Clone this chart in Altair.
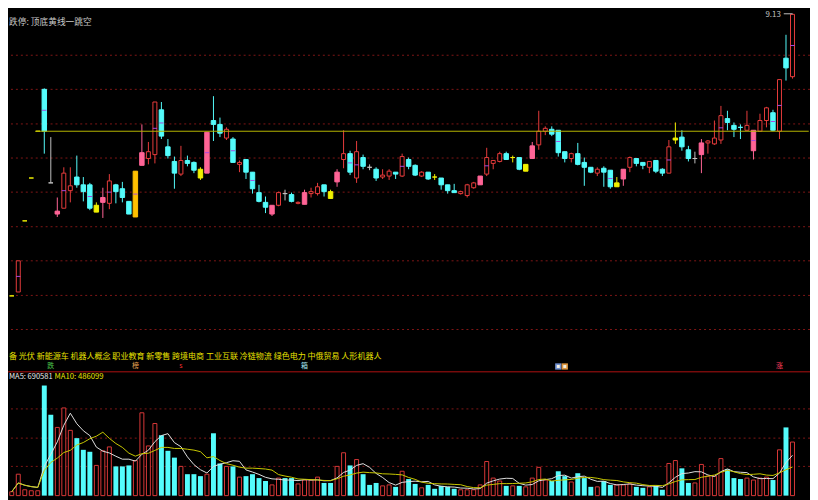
import altair as alt
import pandas as pd

# ---------------- data ----------------
idx = list(range(-1, 120))

opens = [3.35, 3.43, 4.89, 5.77, 6.73, 7.59, 5.67, 5.03, 5.15, 5.51,
         5.79, 5.63, 5.63, 5.21, 5.27, 5.25, 5.63, 5.55, 5.29, 5.91,
         6.03, 6.17, 6.25, 7.17, 6.41, 6.11, 5.85, 6.13, 6.09, 5.95,
         5.87, 6.95, 6.87, 6.59, 6.57, 6.05, 6.15, 5.89, 5.47, 5.27,
         5.03, 5.21, 5.45, 5.43, 5.25, 5.23, 5.45, 5.45, 5.63, 5.49,
         5.69, 6.15, 6.27, 5.77, 6.19, 5.99, 5.95, 5.79, 5.81, 5.89,
         5.81, 6.15, 6.03, 5.81, 5.89, 5.79, 5.77, 5.63, 5.51, 5.45,
         5.41, 5.57, 5.63, 5.85, 6.07, 6.11, 6.27, 6.19, 6.19, 6.05,
         6.17, 6.45, 6.73, 6.77, 6.75, 6.31, 6.17, 6.27, 6.09, 5.99,
         5.87, 5.97, 5.93, 5.67, 5.75, 5.99, 6.17, 6.09, 5.99, 6.13,
         5.95, 5.87, 6.55, 6.61, 6.35, 6.17, 6.25, 6.49, 6.47, 6.55,
         6.99, 6.85, 6.81, 6.75, 6.33, 6.73, 6.95, 7.11, 6.73, 8.23,
         7.85]
highs = [3.35, 4.07, 4.89, 5.77, 6.73, 7.61, 6.61, 5.37, 5.99, 5.99,
         6.23, 5.79, 5.67, 5.27, 5.57, 5.85, 5.65, 5.69, 5.29, 5.91,
         6.87, 6.51, 7.33, 7.33, 6.57, 6.21, 6.43, 6.23, 6.11, 5.99,
         6.71, 7.45, 7.01, 6.81, 6.61, 6.13, 6.15, 5.89, 5.63, 5.39,
         5.21, 5.49, 5.53, 5.47, 5.29, 5.53, 5.57, 5.67, 5.63, 5.53,
         5.95, 6.75, 6.33, 6.53, 6.25, 6.05, 5.99, 5.95, 5.95, 5.89,
         6.27, 6.19, 6.05, 5.91, 5.89, 5.85, 5.77, 5.63, 5.65, 5.51,
         5.65, 5.69, 5.81, 6.39, 6.13, 6.31, 6.31, 6.23, 6.19, 6.05,
         6.51, 7.15, 6.83, 6.83, 6.75, 6.31, 6.29, 6.49, 6.19, 5.99,
         5.99, 6.01, 5.93, 5.79, 5.95, 6.21, 6.17, 6.09, 6.11, 6.13,
         5.97, 6.55, 6.91, 6.75, 6.43, 6.31, 6.57, 6.55, 6.95, 7.25,
         7.15, 6.91, 6.87, 7.15, 6.75, 7.09, 7.23, 7.17, 7.79, 8.71,
         9.13]
lows = [3.35, 3.43, 4.89, 5.77, 6.73, 6.27, 5.67, 4.97, 5.15, 5.27,
        5.57, 5.29, 5.11, 5.07, 4.95, 5.13, 5.25, 5.27, 5.03, 4.97,
        6.03, 6.05, 6.07, 6.57, 6.17, 5.55, 5.81, 6.01, 5.87, 5.73,
        5.87, 6.53, 6.61, 6.55, 6.09, 5.89, 5.75, 5.45, 5.27, 5.05,
        4.99, 5.19, 5.31, 5.27, 5.23, 5.23, 5.37, 5.41, 5.39, 5.35,
        5.59, 5.97, 5.83, 5.67, 5.95, 5.93, 5.71, 5.75, 5.73, 5.75,
        5.79, 5.95, 5.81, 5.79, 5.73, 5.73, 5.53, 5.45, 5.47, 5.43,
        5.37, 5.55, 5.63, 5.81, 5.95, 6.09, 6.15, 6.09, 5.93, 5.91,
        6.17, 6.35, 6.65, 6.63, 6.21, 6.09, 6.09, 6.03, 5.61, 5.87,
        5.81, 5.59, 5.55, 5.59, 5.61, 5.89, 6.01, 5.95, 5.87, 5.87,
        5.81, 5.87, 6.47, 6.33, 6.11, 6.07, 5.87, 6.27, 6.45, 6.47,
        6.75, 6.61, 6.57, 6.75, 6.15, 6.73, 6.81, 6.73, 6.57, 7.77,
        7.81]
closes = [3.35, 4.07, 4.89, 5.77, 6.73, 6.73, 5.67, 5.09, 5.87, 5.61,
          5.63, 5.49, 5.15, 5.07, 5.37, 5.71, 5.49, 5.37, 5.03, 4.97,
          6.29, 6.31, 7.33, 6.63, 6.23, 5.87, 6.13, 6.07, 5.93, 5.77,
          6.71, 6.87, 6.69, 6.77, 6.09, 6.09, 5.89, 5.55, 5.29, 5.17,
          5.21, 5.47, 5.45, 5.29, 5.27, 5.47, 5.49, 5.59, 5.49, 5.35,
          5.89, 6.27, 5.89, 6.31, 6.01, 5.99, 5.77, 5.83, 5.91, 5.85,
          6.21, 6.01, 5.83, 5.89, 5.75, 5.79, 5.63, 5.51, 5.47, 5.49,
          5.63, 5.67, 5.81, 6.19, 6.13, 6.27, 6.15, 6.19, 5.95, 5.91,
          6.43, 6.73, 6.79, 6.67, 6.29, 6.17, 6.27, 6.05, 5.99, 5.89,
          5.95, 5.89, 5.59, 5.59, 5.95, 6.19, 6.07, 6.03, 6.11, 5.91,
          5.87, 6.41, 6.59, 6.41, 6.17, 6.17, 6.49, 6.53, 6.59, 7.05,
          6.91, 6.77, 6.81, 6.85, 6.75, 6.95, 7.21, 6.75, 7.79, 8.03,
          9.13]
# candle style: U red hollow, D cyan, P pink, Y yellow, O orange, X doji
styles = list("YUYYYDXPUU" "DDDYPUDDDO" "PUUDDDUDDY" "PDDUDUDDDD"
              "PUXDUPUUDY" "PUDUDXDUUD" "UDDUDYDDDU" "UUPUUUDYDY"
              "PUUDDDUDDD" "UDDYPUDDUD" "DUYDDXPUUU" "DDDUPUUDUD" "U")
# volume (万)
vol = [8, 44, 12, 10, 10, 226, 166, 140, 180, 134,
       118, 94, 90, 62, 92, 100, 60, 60, 62, 72,
       170, 102, 148, 124, 92, 78, 60, 44, 44, 40,
       44, 128, 66, 60, 60, 38, 40, 44, 36, 30,
       22, 36, 36, 36, 24, 32, 32, 38, 26, 26,
       60, 88, 62, 74, 44, 22, 26, 20, 22, 18,
       50, 34, 24, 16, 22, 14, 20, 18, 14, 12,
       12, 12, 22, 70, 36, 30, 20, 20, 20, 18,
       36, 58, 32, 30, 50, 40, 28, 46, 36, 18,
       18, 30, 22, 22, 22, 24, 18, 16, 18, 20,
       12, 66, 72, 56, 26, 26, 64, 40, 40, 76,
       54, 36, 34, 36, 32, 36, 38, 32, 94, 140,
       110]
vol_dir = list("uuuuudduuu" "ddduuudddu" "uuuddduddd" "uddududddd"
               "uudduuuudd" "uududdduud" "uddudddddu" "uuuuuududu"
               "uuuddduddd" "udduuuddud" "duudduuuuu" "ddduuuudud" "u")

grid_price = [2.66, 3.36, 4.07, 4.77, 5.48, 6.18, 6.88, 7.59, 8.29]
grid_vol = [60, 118, 178]
gap_line = 6.73
high_label = "9.13"

title_text = "跌停: 顶底黄线一跳空"
concepts = "备 光伏 新能源车 机器人概念 职业教育 新零售 跨境电商 工业互联 冷链物流 绿色电力 中俄贸易 人形机器人"
ma5_text = "MA5: 690581"
ma10_text = "MA10: 486099"

marker_i = [5, 18, 25, 44, 117]
marker_t = ["跌", "榜", "s", "箱", "涨"]
marker_c = ["#4CC84C", "#E8A050", "#FF3030", "#A8E8F0", "#FF4060"]
box_i = [83, 84]
box_c = ["#6F8FD0", "#E09840"]

assert len(opens) == len(highs) == len(lows) == len(closes) == len(idx) == len(styles) == len(vol) == len(vol_dir)

# ---------------- chart ----------------
W, H = 810, 492
FONT = "Noto Sans CJK SC"

df = pd.DataFrame({"i": idx, "o": opens, "h": highs, "l": lows, "c": closes,
                   "s": styles, "v": vol, "vd": vol_dir})

style_dom = ["U", "D", "P", "Y", "O", "X"]
style_rng = ["#E83C3C", "#54FCFC", "#FF6496", "#F0F000", "#FFC000", "#C0C0C0"]
sty = alt.Scale(domain=style_dom, range=style_rng)

xsc = alt.Scale(domain=[-0.818, 120.93], nice=False, zero=False)
psc = alt.Scale(domain=[-0.79, 9.21], nice=False, zero=False)
vsc = alt.Scale(domain=[-4, 996], nice=False, zero=False)

X = alt.X("i:Q", scale=xsc, axis=None)
base = alt.Chart(df)

gp = alt.Chart(pd.DataFrame({"g": grid_price})).mark_rule(
    color="#801616", strokeDash=[2, 3], strokeWidth=1).encode(
    y=alt.Y("g:Q", scale=psc, axis=None))
gv = alt.Chart(pd.DataFrame({"g": grid_vol})).mark_rule(
    color="#801616", strokeDash=[2, 3], strokeWidth=1).encode(
    y=alt.Y("g:Q", scale=vsc, axis=None))

wicks = base.mark_rule(strokeWidth=1).encode(
    X, y=alt.Y("l:Q", scale=psc, axis=None), y2="h:Q",
    color=alt.Color("s:N", scale=sty, legend=None))

bodies = base.transform_filter("datum.s != 'U'").mark_bar(size=4.5, strokeWidth=1).encode(
    X, y=alt.Y("o:Q", scale=psc, axis=None), y2="c:Q",
    color=alt.Color("s:N", scale=sty, legend=None),
    stroke=alt.Stroke("s:N", scale=sty, legend=None))

hollow = base.transform_filter("datum.s == 'U'").mark_bar(
    size=4, fill="#000000", stroke="#E83C3C", strokeWidth=1).encode(
    X, y=alt.Y("o:Q", scale=psc, axis=None), y2="c:Q")

mids = base.transform_filter("abs(datum.o - datum.c) >= 0.3").transform_calculate(
    m="(datum.o + datum.c) / 2", x0="datum.i - 0.33", x1="datum.i + 0.33").mark_rule(
    color="#A848E0", strokeWidth=1).encode(
    x=alt.X("x0:Q", scale=xsc, axis=None), x2="x1:Q",
    y=alt.Y("m:Q", scale=psc, axis=None))

yline = alt.Chart(pd.DataFrame({"x0": [2.75], "x1": [121.5], "p": [gap_line]})).mark_rule(
    color="#B4B400", strokeWidth=1).encode(
    x=alt.X("x0:Q", scale=xsc, axis=None), x2="x1:Q",
    y=alt.Y("p:Q", scale=psc, axis=None))

vol_up = base.transform_filter("datum.vd == 'u'").mark_bar(
    size=4, fill="#000000", stroke="#D83838", strokeWidth=1).encode(
    X, y=alt.Y("v:Q", scale=vsc, axis=None), y2=alt.datum(0))
vol_dn = base.transform_filter("datum.vd == 'd'").mark_bar(
    size=5, color="#54FCFC").encode(
    X, y=alt.Y("v:Q", scale=vsc, axis=None), y2=alt.datum(0))

ma = base.transform_window(
    ma5="mean(v)", frame=[-4, 0], sort=[alt.SortField("i")]).transform_window(
    ma10="mean(v)", frame=[-9, 0], sort=[alt.SortField("i")])
ma5 = ma.mark_line(color="#E0E0E0", strokeWidth=1).encode(
    X, y=alt.Y("ma5:Q", scale=vsc, axis=None))
ma10 = ma.mark_line(color="#C8C800", strokeWidth=1).encode(
    X, y=alt.Y("ma10:Q", scale=vsc, axis=None))

divider = alt.Chart(pd.DataFrame({"a": [0]})).mark_rule(
    color="#B01010", strokeWidth=1).encode(
    x=alt.value(0), x2=alt.value(W), y=alt.value(365))

def label(text, x, y, color, size, align="left"):
    return alt.Chart(pd.DataFrame({"t": [text]})).mark_text(
        align=align, baseline="middle", font=FONT, fontSize=size, color=color).encode(
        x=alt.value(x), y=alt.value(y), text="t:N")

title = label(title_text, 1, 11.8, "#C8C8C8", 8.8)
concept = label(concepts, 1, 349.8, "#E8E000", 8.1)
ma5_lab = label(ma5_text, 1, 370.7, "#E8E8E8", 7.6)
ma10_lab = label(ma10_text, 47, 370.7, "#E8E000", 7.8)
hi_lab = label(high_label, 765, 4.6, "#C0C0C0", 8, align="left")
hi_ptr = alt.Chart(pd.DataFrame({"a": [0]})).mark_rule(color="#C0C0C0", strokeWidth=1).encode(
    x=alt.value(783.5), x2=alt.value(792.5), y=alt.value(3.4))

MK_Y = 359.6
markers = alt.Chart(pd.DataFrame({"i": marker_i, "t": marker_t, "c": marker_c})).mark_text(
    align="center", baseline="middle", font=FONT, fontSize=7).encode(
    x=alt.X("i:Q", scale=xsc, axis=None), y=alt.value(MK_Y), text="t:N",
    color=alt.Color("c:N", scale=None))
boxes = alt.Chart(pd.DataFrame({"i": box_i, "c": box_c})).mark_square(size=40, opacity=1).encode(
    x=alt.X("i:Q", scale=xsc, axis=None), y=alt.value(MK_Y),
    color=alt.Color("c:N", scale=None))
box_in = alt.Chart(pd.DataFrame({"i": box_i})).mark_square(size=9, opacity=1, color="#F4F0E0").encode(
    x=alt.X("i:Q", scale=xsc, axis=None), y=alt.value(MK_Y))

chart = alt.layer(
    gp, gv, wicks, bodies, hollow, mids, yline,
    vol_up, vol_dn, ma5, ma10, divider,
    title, concept, ma5_lab, ma10_lab, hi_lab, hi_ptr, markers, boxes, box_in
).resolve_scale(
    y="independent", color="independent", stroke="independent"
).properties(
    width=W, height=H, padding=0, background="#000000",
    autosize=alt.AutoSizeParams(type="none")
).configure_view(strokeWidth=0)

chart.save("out.html", embed_options={"renderer": "svg", "actions": False})
